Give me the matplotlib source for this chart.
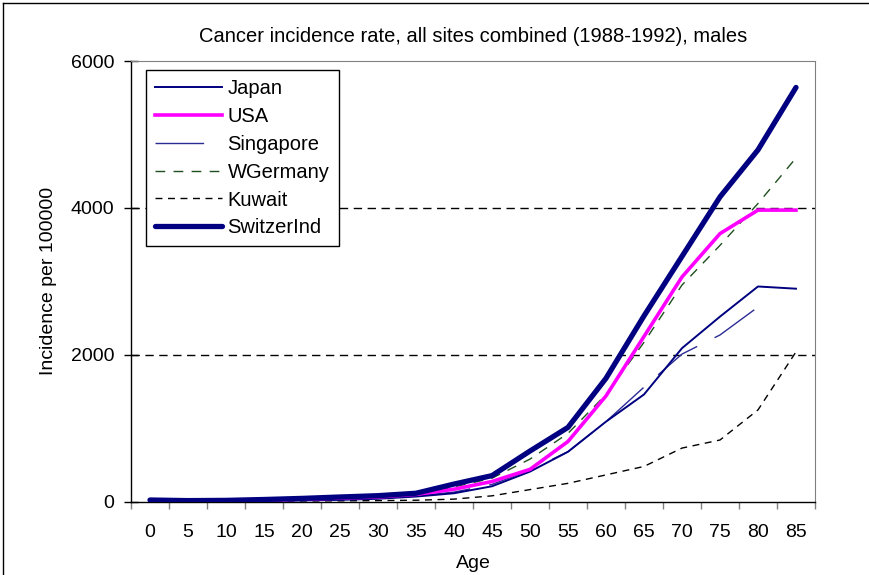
import matplotlib
matplotlib.use("Agg")
import matplotlib.pyplot as plt
import numpy as np
from matplotlib.lines import Line2D

plt.rcParams['font.family'] = ['Liberation Sans', 'DejaVu Sans']

ages = ["0", "5", "10", "15", "20", "25", "30", "35", "40", "45",
        "50", "55", "60", "65", "70", "75", "80", "85"]

japan = [12, 8, 9, 12, 18, 25, 40, 70, 115, 210, 410, 680, 1090, 1460, 2090, 2520, 2930, 2900]
usa = [18, 12, 14, 22, 35, 50, 65, 100, 170, 275, 440, 820, 1440, 2250, 3060, 3650, 3970, 3970]
singapore = [10, 6, 8, 12, 18, 28, 45, 80, 130, 235, 430, 680, 1090, 1560, 2010, 2270, 2650, np.nan]
wgermany = [15, 10, 12, 18, 30, 45, 65, 110, 200, 320, 580, 930, 1460, 2170, 2950, 3490, 4060, 4680]
kuwait = [6, 4, 5, 8, 10, 12, 15, 20, 35, 80, 165, 250, 365, 480, 730, 840, 1250, 2040]
switzerland = [23, 15, 18, 30, 45, 64, 82, 115, 240, 355, 690, 1012, 1680, 2530, 3340, 4150, 4790, 5640]

series_names = ["Japan", "USA", "Singapore", "WGermany", "Kuwait", "SwitzerInd"]

W, H = 869, 575
fig = plt.figure(figsize=(W / 100, H / 100), dpi=100)
ax = fig.add_axes([131 / W, 1 - 501.7 / H, (815 - 131) / W, (501.7 - 61) / H])

x = np.arange(len(ages))

ax.plot(x, kuwait, color='black', lw=1.0, ls=(0, (5, 4)), label=series_names[4], zorder=3)
ax.plot(x, wgermany, color='#1f4f1f', lw=1.0, ls=(0, (7, 6)), label=series_names[3], zorder=3)
ax.plot(x, singapore, color='#2b2b96', lw=1.0, ls=(0, (35, 14)), label=series_names[2], zorder=3)
ax.plot(x, japan, color='#000080', lw=1.4, label=series_names[0], zorder=4)
ax.plot(x, usa, color='#ff00ff', lw=2.6, label=series_names[1], zorder=5)
ax.plot(x, switzerland, color='#000080', lw=3.8, label=series_names[5], zorder=6,
        solid_capstyle='round')

ax.set_xlim(-0.5, len(ages) - 0.5)
ax.set_ylim(0, 6000)
ax.set_yticks([0, 2000, 4000, 6000])
ax.set_yticklabels(["0", "2000", "4000", "6000"])

FS = 14

# x axis: tick marks at category boundaries, labels at centres
ax.set_xticks(np.arange(-0.5, len(ages), 1.0))
ax.set_xticklabels([])
ax.set_xticks(x, minor=True)
ax.set_xticklabels(ages, minor=True)
ax.tick_params(axis='x', which='major', direction='out', length=5, width=1, color='#808080')
ax.tick_params(axis='x', which='minor', length=0, pad=16, labelsize=FS)
ax.tick_params(axis='y', direction='inout', length=10, width=1, pad=7, labelsize=FS)

for yv in [2000, 4000]:
    ax.axhline(yv, color='black', lw=1.0, ls=(0, (6, 4)), zorder=1)

for s in ['top', 'right']:
    ax.spines[s].set_color('#808080')
for s in ['left', 'bottom']:
    ax.spines[s].set_color('black')
    ax.spines[s].set_linewidth(1.0)

ax.set_xlabel("Age", fontsize=FS, labelpad=10)
ax.set_ylabel("Incidence per 100000", fontsize=FS, labelpad=10)
ax.set_title("Cancer incidence rate, all sites combined (1988-1992), males", fontsize=14.5, pad=14)

handles, labels = ax.get_legend_handles_labels()
hmap = dict(zip(labels, handles))
leg = ax.legend([hmap[n] for n in series_names], series_names,
                loc='upper left', bbox_to_anchor=((146 - 131) / 684, (501.7 - 70) / 440.7),
                borderaxespad=0, prop={'size': 14.5}, frameon=True, fancybox=False,
                edgecolor='black', framealpha=1, handlelength=3.3, handletextpad=0.3,
                labelspacing=0.44, borderpad=0.45)
leg.get_frame().set_linewidth(1.0)

# figure border (top and left visible)
fig.add_artist(Line2D([3 / W, 1], [1 - 2.5 / H, 1 - 2.5 / H], transform=fig.transFigure, color='black', lw=1))
fig.add_artist(Line2D([3 / W, 3 / W], [0, 1 - 2.5 / H], transform=fig.transFigure, color='black', lw=1))

fig.savefig("out.png", dpi=100)
